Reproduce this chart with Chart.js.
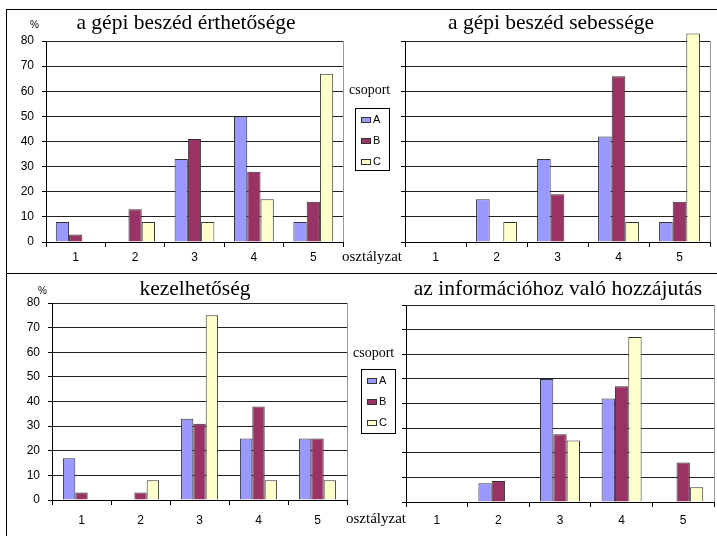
<!DOCTYPE html>
<html>
<head>
<meta charset="utf-8">
<script src="https://cdn.jsdelivr.net/npm/chart.js@4"></script>
<style>
body{margin:0;background:#fff;}
#wrap{position:relative;width:717px;height:536px;overflow:hidden;background:#fff;}
#wrap canvas{position:absolute;}
.line{position:absolute;background:#000;}
.title{position:absolute;width:400px;text-align:center;font-family:"Liberation Serif",serif;font-size:21.5px;line-height:1;color:#000;white-space:nowrap;}
.lbl{position:absolute;font-family:"Liberation Serif",serif;line-height:1;color:#000;white-space:nowrap;}
.pct{position:absolute;font-family:"Liberation Sans",sans-serif;font-size:10px;line-height:1;}
.legend{position:absolute;border:1px solid #000;background:#fff;box-sizing:border-box;}
.legend div{position:absolute;font-family:"Liberation Sans",sans-serif;font-size:11px;line-height:1;}
.legend span{position:absolute;width:10px;height:6px;border:1px solid #333;box-sizing:border-box;}
</style>
</head>
<body>
<div id="wrap">
<div class="line" style="left:6px;top:9px;width:1px;height:527px"></div>
<div class="line" style="left:6px;top:9px;width:711px;height:1px"></div>
<div class="line" style="left:6px;top:273px;width:711px;height:1px"></div>

<canvas id="c1" width="357" height="270" style="left:0;top:0"></canvas>
<canvas id="c2" width="360" height="270" style="left:357px;top:0"></canvas>
<canvas id="c3" width="357" height="263" style="left:0;top:273px"></canvas>
<canvas id="c4" width="360" height="263" style="left:357px;top:273px"></canvas>

<div class="title" style="left:-14px;top:12px">a gépi beszéd érthetősége</div>
<div class="title" style="left:351px;top:12px">a gépi beszéd sebessége</div>
<div class="title" style="left:-5px;top:278px">kezelhetőség</div>
<div class="title" style="left:358px;top:278px">az információhoz való hozzájutás</div>

<div class="pct" style="left:30px;top:20px">%</div>
<div class="pct" style="left:38px;top:286px">%</div>

<div class="lbl" style="left:342px;top:249px;font-size:15px">osztályzat</div>
<div class="lbl" style="left:346px;top:511px;font-size:15px">osztályzat</div>
<div class="lbl" style="left:349px;top:83px;font-size:14px">csoport</div>
<div class="lbl" style="left:353px;top:346px;font-size:14px">csoport</div>

<div class="legend" id="leg1" style="left:355px;top:108px;width:35px;height:63px"></div>
<div class="legend" id="leg2" style="left:361px;top:369px;width:35px;height:65px"></div>
</div>

<script>
const categories = ["1","2","3","4","5"];
const groups = ["A","B","C"];
const groupColors = ["#9999ff","#993366","#ffffcc"];
const yTicks = [0,10,20,30,40,50,60,70,80];

// a gépi beszéd érthetősége
const erthetoA = [8,0,33,50,8];
const erthetoB = [3,13,41,28,16];
const erthetoC = [0,8,8,17,67];

// a gépi beszéd sebessége
const sebessegA = [0,17,33,42,8];
const sebessegB = [0,0,19,66,16];
const sebessegC = [0,8,0,8,83];

// kezelhetőség
const kezelA = [17,0,33,25,25];
const kezelB = [3,3,31,38,25];
const kezelC = [0,8,75,8,8];

// az információhoz való hozzájutás
const infoA = [0,7.6,50,42,0];
const infoB = [0,8.5,27.5,47,16];
const infoC = [0,0,25,67,6];

const plotEdge = {
id:"plotEdge",
beforeDatasetsDraw(chart){
const a = chart.chartArea, c = chart.ctx;
const x = Math.round(a.right)+0.5;
c.save();
c.strokeStyle = "#999";
c.lineWidth = 1;
c.beginPath();
c.moveTo(x,a.top);
c.lineTo(x,a.bottom);
c.stroke();
c.restore();
}
};

function makePanel(id,series,p){
const ctx = document.getElementById(id).getContext("2d");
return new Chart(ctx,{
type:"bar",
data:{
labels:categories,
datasets:series.map((vals,i)=>({
label:groups[i],
data:vals,
backgroundColor:groupColors[i],
borderColor:"#333",
borderWidth:1,
categoryPercentage:p.catPct,
barPercentage:1,
clip:false
}))
},
options:{
responsive:false,
animation:false,
devicePixelRatio:1,
layout:{padding:{left:0,top:p.top,right:p.right,bottom:0}},
plugins:{legend:{display:false},tooltip:{enabled:false},title:{display:false}},
scales:{
x:{
grid:{drawOnChartArea:false,drawTicks:true,tickLength:5,tickColor:"#000",offset:true},
border:{color:"#000",width:1},
ticks:{color:"#000",padding:p.xPad,font:{family:"Liberation Sans",size:12},maxRotation:0},
afterFit:function(scale){ scale.height = p.xHeight; }
},
y:{
min:0,
max:80,
afterBuildTicks:function(scale){ scale.ticks = yTicks.map(v=>({value:v})); },
grid:{color:"#222",tickColor:"#000",tickLength:4,drawTicks:true},
border:{color:"#000",width:1},
ticks:{
color:"#000",
padding:8,
font:{family:"Liberation Sans",size:12},
callback:function(v){ return p.showY ? v : ""; }
},
afterFit:function(scale){ scale.width = p.yWidth; }
}
}
},
plugins:[plotEdge]
});
}

function buildLegend(id){
let box = document.getElementById(id);
groups.forEach((g,i)=>{
let sw = document.createElement("span");
sw.style.left = "5px";
sw.style.top = (8+i*21)+"px";
sw.style.background = groupColors[i];
box.appendChild(sw);
let t = document.createElement("div");
t.style.left = "17px";
t.style.top = (5+i*21)+"px";
t.innerText = g;
box.appendChild(t);
});
}

makePanel("c1",[erthetoA,erthetoB,erthetoC],{top:41,right:14,xHeight:28,yWidth:46,showY:true,catPct:0.67,xPad:3});
makePanel("c2",[sebessegA,sebessegB,sebessegC],{top:41,right:7,xHeight:28,yWidth:48,showY:false,catPct:0.67,xPad:3});
makePanel("c3",[kezelA,kezelB,kezelC],{top:30,right:10,xHeight:36,yWidth:52,showY:true,catPct:0.63,xPad:8});
makePanel("c4",[infoA,infoB,infoC],{top:32,right:3,xHeight:34,yWidth:49,showY:false,catPct:0.65,xPad:6});

buildLegend("leg1");
buildLegend("leg2");
</script>
</body>
</html>
